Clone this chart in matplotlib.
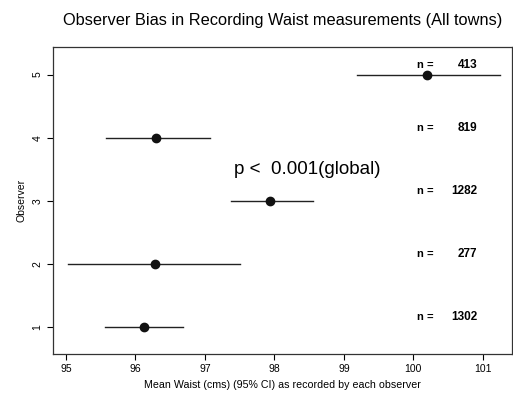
import matplotlib
matplotlib.use("Agg")
import matplotlib.pyplot as plt

plt.rcParams['font.family'] = ['Liberation Sans', 'DejaVu Sans']

# Data
observers = [1, 2, 3, 4, 5]
means = [96.12, 96.28, 97.94, 96.30, 100.20]
ci_low = [95.56, 95.03, 97.37, 95.57, 99.19]
ci_high = [96.69, 97.51, 98.56, 97.07, 101.25]
n_counts = [1302, 277, 1282, 819, 413]
x_ticks = [95, 96, 97, 98, 99, 100, 101]

fig = plt.figure(figsize=(5.13, 4.04), dpi=100)
ax = fig.add_axes([0.103, 0.124, 0.895, 0.76])

for obs, m, lo, hi in zip(observers, means, ci_low, ci_high):
    ax.plot([lo, hi], [obs, obs], color="#222222", lw=1.0)
    ax.plot(m, obs, "o", color="#111111", ms=6)

# sample size labels
for obs, n in zip(observers, n_counts):
    ax.text(100.05, obs + 0.16, "n =", fontsize=8, fontweight="bold",
            ha="left", va="center")
    ax.text(100.92, obs + 0.16, str(n), fontsize=8.5, fontweight="bold",
            ha="right", va="center")

ax.text(97.42, 3.50, "p <  0.001(global)", fontsize=13.5, ha="left", va="center")

ax.set_xlim(94.81, 101.42)
ax.set_ylim(0.57, 5.44)
ax.set_xticks(x_ticks)
ax.set_yticks(observers)
ax.tick_params(axis="both", labelsize=7.5, length=4, width=0.8)
for lbl in ax.get_yticklabels():
    lbl.set_rotation(90)
    lbl.set_va("center")

for s in ax.spines.values():
    s.set_linewidth(0.9)
    s.set_color("#333333")

ax.set_xlabel("Mean Waist (cms) (95% CI) as recorded by each observer", fontsize=7.7)
ax.set_ylabel("Observer", fontsize=7.5)
fig.text(0.55, 0.95, "Observer Bias in Recording Waist measurements (All towns)",
         ha="center", va="center", fontsize=11.8)

fig.savefig("out.png", dpi=100)
